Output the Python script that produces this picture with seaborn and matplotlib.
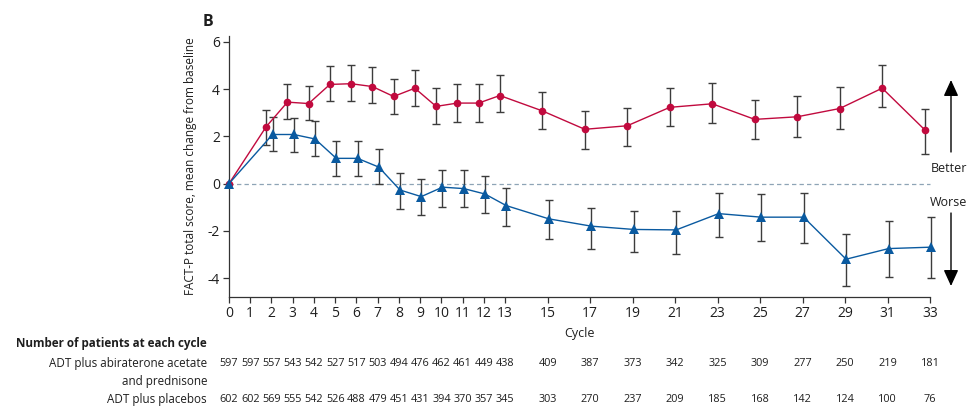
import numpy as np
import pandas as pd
import matplotlib
matplotlib.use("Agg")
import matplotlib.pyplot as plt
import matplotlib.transforms as mtransforms
import matplotlib.patches as mpatches
import seaborn as sns

# ---------------- data ----------------
cycles = [0, 2, 3, 4, 5, 6, 7, 8, 9, 10, 11, 12, 13, 15, 17, 19, 21, 23, 25, 27, 29, 31, 33]
abi_mean = [0.0, 2.41, 3.45, 3.39, 4.20, 4.23, 4.11, 3.69, 4.04, 3.27, 3.41, 3.41, 3.73,
            3.08, 2.30, 2.45, 3.23, 3.38, 2.72, 2.83, 3.18, 4.04, 2.28]
abi_upper = [0.0, 3.10, 4.21, 4.14, 4.99, 5.01, 4.94, 4.44, 4.83, 4.03, 4.20, 4.20, 4.58,
             3.87, 3.07, 3.21, 4.03, 4.24, 3.54, 3.70, 4.07, 5.04, 3.17]
abi_lower = [0.0, 1.65, 2.75, 2.68, 3.48, 3.51, 3.41, 2.94, 3.30, 2.52, 2.63, 2.63, 3.03,
             2.31, 1.48, 1.61, 2.44, 2.58, 1.89, 1.97, 2.31, 3.24, 1.24]
pla_mean = [0.0, 2.08, 2.08, 1.89, 1.07, 1.07, 0.70, -0.27, -0.55, -0.15, -0.21, -0.44, -0.93,
            -1.49, -1.80, -1.94, -1.96, -1.27, -1.42, -1.42, -3.20, -2.75, -2.69]
pla_upper = [0.0, 2.80, 2.79, 2.66, 1.80, 1.80, 1.48, 0.46, 0.20, 0.59, 0.56, 0.34, -0.17,
             -0.68, -1.04, -1.14, -1.14, -0.38, -0.46, -0.41, -2.14, -1.58, -1.41]
pla_lower = [0.0, 1.37, 1.32, 1.17, 0.34, 0.31, -0.03, -1.07, -1.32, -0.97, -1.01, -1.24, -1.80,
             -2.35, -2.77, -2.90, -2.97, -2.27, -2.44, -2.51, -4.32, -3.94, -4.01]

tick_cycles = [0, 1, 2, 3, 4, 5, 6, 7, 8, 9, 10, 11, 12, 13, 15, 17, 19, 21, 23, 25, 27, 29, 31, 33]
n_abi = [597, 597, 557, 543, 542, 527, 517, 503, 494, 476, 462, 461, 449, 438,
         409, 387, 373, 342, 325, 309, 277, 250, 219, 181]
n_pla = [602, 602, 569, 555, 542, 526, 488, 479, 451, 431, 394, 370, 357, 345,
         303, 270, 237, 209, 185, 168, 142, 124, 100, 76]
y_ticks = [-4, -2, 0, 2, 4, 6]

RED = "#c10a3e"
BLUE = "#0a5aa0"
ERR = "#3c3c3c"
TXT = "#1e1e1e"

# ---------------- style ----------------
sns.set_style("ticks")
plt.rcParams["font.family"] = ["Open Sans", "DejaVu Sans"]
plt.rcParams["axes.edgecolor"] = "#333333"
plt.rcParams["xtick.color"] = "#333333"
plt.rcParams["ytick.color"] = "#333333"

W, H = 975, 412
fig = plt.figure(figsize=(W / 100, H / 100), dpi=100)
ax = fig.add_axes([229 / W, 1 - 297 / H, (930 - 229) / W, (297 - 36) / H])

cyc = np.array(cycles, dtype=float)
x_abi = cyc + np.where(cyc == 0, 0.0, -0.25)
x_pla = cyc + np.where(cyc == 0, 0.0, 0.05)

df_abi = pd.DataFrame({"x": x_abi, "y": abi_mean})
df_pla = pd.DataFrame({"x": x_pla, "y": pla_mean})

# zero reference line
ax.axhline(0, color="#8ea4b6", lw=0.9, ls=(0, (3.5, 2.5)), zorder=1)

# error bars
ab_m = np.array(abi_mean)
pl_m = np.array(pla_mean)
ab_err = np.vstack([ab_m - np.array(abi_lower), np.array(abi_upper) - ab_m])
pl_err = np.vstack([pl_m - np.array(pla_lower), np.array(pla_upper) - pl_m])
mask = cyc > 0
containers = []
containers.append(ax.errorbar(x_abi[mask], ab_m[mask], yerr=ab_err[:, mask], fmt="none",
                              ecolor=ERR, elinewidth=1.0, capsize=3.2, capthick=1.0, zorder=2))
containers.append(ax.errorbar(x_pla[mask], pl_m[mask], yerr=pl_err[:, mask], fmt="none",
                              ecolor=ERR, elinewidth=1.0, capsize=3.2, capthick=1.0, zorder=2))
for c in containers:
    for child in c.get_children():
        child.set_clip_on(False)

# lines + markers
sns.lineplot(data=df_abi, x="x", y="y", ax=ax, color=RED, lw=1.0, marker="o",
             markersize=5.5, markeredgewidth=0, sort=False, zorder=3)
sns.lineplot(data=df_pla, x="x", y="y", ax=ax, color=BLUE, lw=1.0, marker="^",
             markersize=7, markeredgewidth=0, sort=False, zorder=4)

ax.set_xlim(0, 33)
ax.set_ylim(-4.8, 6.25)
ax.set_xticks(tick_cycles)
ax.set_xticklabels([str(t) for t in tick_cycles])
ax.set_yticks(y_ticks)
ax.set_yticklabels([str(t) if t >= 0 else "-" + str(abs(t)) for t in y_ticks])
ax.tick_params(axis="both", labelsize=10, length=4.5, width=0.9, pad=2, labelcolor=TXT)
ax.set_xlabel("Cycle", fontsize=9, labelpad=4, color=TXT)
ax.set_ylabel("FACT-P total score, mean change from baseline", fontsize=8.5,
              labelpad=8, color=TXT)
ax.spines["top"].set_visible(False)
ax.spines["right"].set_visible(False)
ax.spines["left"].set_linewidth(0.9)
ax.spines["bottom"].set_linewidth(0.9)
for ln in ax.lines:
    ln.set_clip_on(False)

# panel letter
fig.text(208 / W, 1 - 22 / H, "B", fontsize=11.5, fontweight="bold", ha="center", va="center",
         color=TXT)

# Better / Worse arrows
arrow_props = dict(arrowstyle="-|>,head_length=0.7,head_width=0.32", color="black", lw=1.0,
                   shrinkA=0, shrinkB=0)
fig.add_artist(mpatches.FancyArrowPatch((951 / W, 1 - 152 / H), (951 / W, 1 - 80 / H),
               transform=fig.transFigure, mutation_scale=14, **arrow_props))
fig.add_artist(mpatches.FancyArrowPatch((951 / W, 1 - 213 / H), (951 / W, 1 - 286 / H),
               transform=fig.transFigure, mutation_scale=14, **arrow_props))
fig.text(949 / W, 1 - 168 / H, "Better", fontsize=9, ha="center", va="center", color=TXT)
fig.text(949 / W, 1 - 202 / H, "Worse", fontsize=9, ha="center", va="center", color=TXT)

# numbers-at-risk table
fig.text(16 / W, 1 - 344 / H, "Number of patients at each cycle", fontsize=8.4,
         fontweight="bold", ha="left", va="center", color=TXT)
fig.text(207 / W, 1 - 364 / H, "ADT plus abiraterone acetate", fontsize=8.4,
         ha="right", va="center", color=TXT)
fig.text(207 / W, 1 - 381 / H, "and prednisone", fontsize=8.4,
         ha="right", va="center", color=TXT)
fig.text(207 / W, 1 - 399 / H, "ADT plus placebos", fontsize=8.4,
         ha="right", va="center", color=TXT)

blend = mtransforms.blended_transform_factory(ax.transData, fig.transFigure)
for t, a, p in zip(tick_cycles, n_abi, n_pla):
    ax.text(t, 1 - 364 / H, str(a), transform=blend, fontsize=7.8, ha="center",
            va="center", color=TXT, clip_on=False)
    ax.text(t, 1 - 399 / H, str(p), transform=blend, fontsize=7.8, ha="center",
            va="center", color=TXT, clip_on=False)

fig.savefig("out.png", dpi=100)
